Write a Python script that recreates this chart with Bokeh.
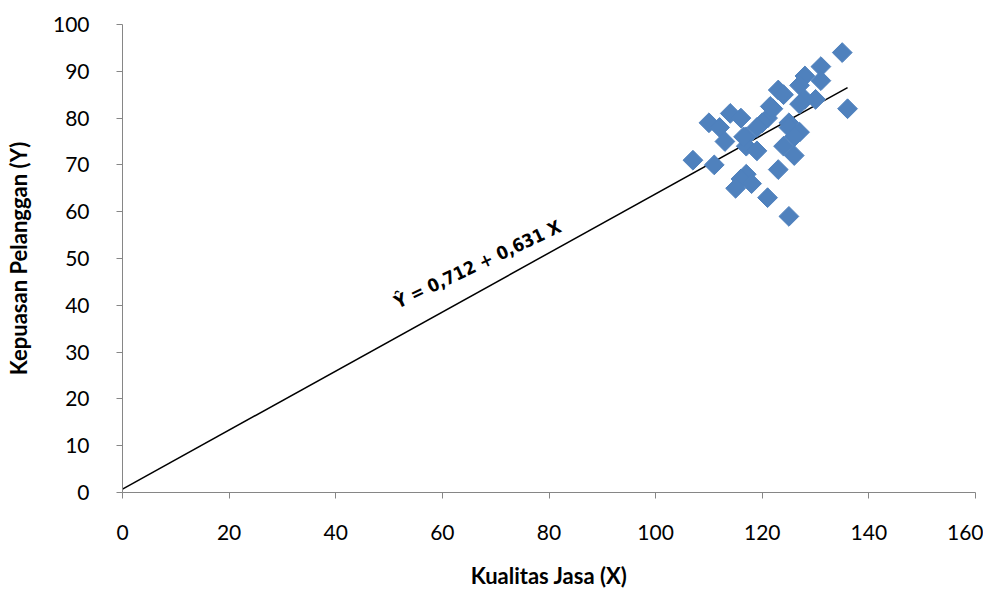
import math
from bokeh.plotting import figure
from bokeh.models import Range1d, FixedTicker, Label
from bokeh.embed import file_html
from bokeh.resources import INLINE

# Data: Kualitas Jasa (X) vs Kepuasan Pelanggan (Y)
x_vals = [135, 136, 131, 131, 128, 127, 130, 128, 127, 123, 124, 122, 121, 120,
          119, 125, 125, 127, 126, 124, 126, 123, 121, 125, 107, 111, 110, 112,
          113, 114, 116, 117, 117, 119, 117, 116, 115, 118, 121.5, 116.5]
y_vals = [94, 82, 91, 88, 89, 87, 84, 84, 83, 86, 85, 82, 80, 79,
          78, 79, 78, 77, 76, 74, 72, 69, 63, 59, 71, 70, 79, 78,
          75, 81, 80, 76, 74, 73, 68, 67, 65, 66, 82.5, 76]

intercept = 0.712
slope = 0.631
line_x = [0, 136]
line_y = [intercept + slope * v for v in line_x]

x_ticks = [0, 20, 40, 60, 80, 100, 120, 140, 160]
y_ticks = [0, 10, 20, 30, 40, 50, 60, 70, 80, 90, 100]

FONT = "Lato"

p = figure(width=983, height=597, output_backend="svg", toolbar_location=None,
           x_range=Range1d(0, 160), y_range=Range1d(0, 100),
           min_border_left=122, min_border_right=8, min_border_top=24,
           min_border_bottom=105)
p.outline_line_color = None
p.grid.visible = False
p.background_fill_color = "white"

p.line(line_x, line_y, line_color="black", line_width=1.5)
p.scatter(x_vals, y_vals, marker="square", size=14, angle=math.pi / 4,
          fill_color="#4F81BD", line_color="#4F81BD", line_width=1)

eq = Label(x=52.0, y=38.5, text="Ŷ  = 0,712 + 0,631 X", angle=0.44,
           text_font="DejaVu Sans Condensed", text_font_style="bold",
           text_font_size="18px", text_color="black")
p.add_layout(eq)

for ax in (p.xaxis, p.yaxis):
    ax.axis_line_color = "#868686"
    ax.major_tick_line_color = "#868686"
    ax.minor_tick_line_color = None
    ax.major_tick_in = 0
    ax.major_tick_out = 6
    ax.major_label_text_font = FONT
    ax.major_label_text_font_size = "21px"
    ax.major_label_text_color = "black"
    ax.axis_label_text_font = FONT
    ax.axis_label_text_font_style = "bold"
    ax.axis_label_text_font_size = "22px"
    ax.axis_label_text_color = "black"

p.xaxis.ticker = FixedTicker(ticks=x_ticks)
p.yaxis.ticker = FixedTicker(ticks=y_ticks)
p.xaxis.major_label_standoff = 26
p.yaxis.major_label_standoff = 27
p.xaxis.axis_label = "Kualitas Jasa (X)"
p.yaxis.axis_label = "Kepuasan Pelanggan (Y)"
p.xaxis.axis_label_standoff = 19
p.yaxis.axis_label_standoff = 18

open("out.html", "w").write(file_html(p, INLINE))
